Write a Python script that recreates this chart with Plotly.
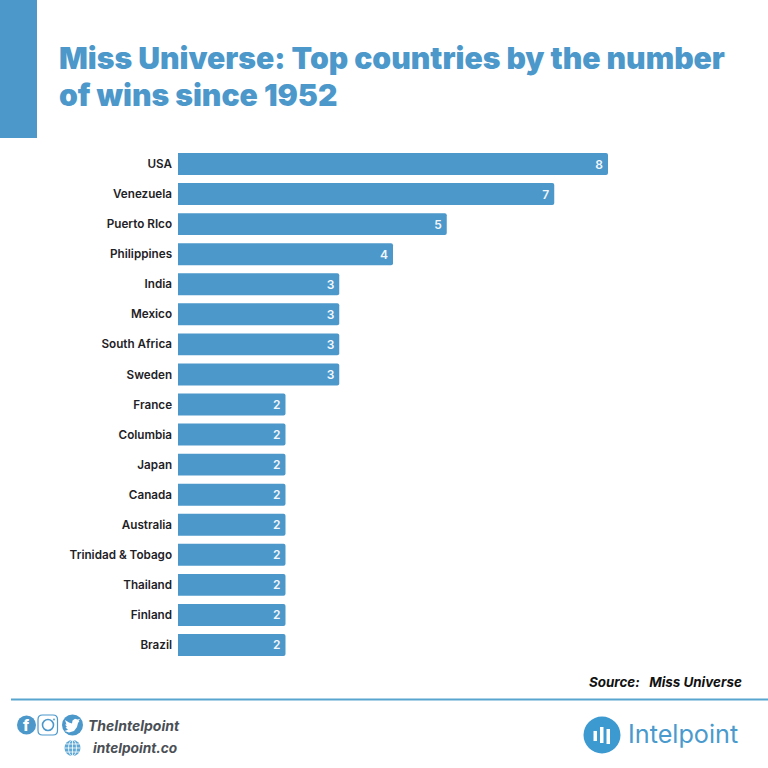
import plotly.graph_objects as go

countries = ["USA", "Venezuela", "Puerto RIco", "Philippines", "India", "Mexico", "South Africa", "Sweden",
             "France", "Columbia", "Japan", "Canada", "Australia", "Trinidad & Tobago", "Thailand", "Finland", "Brazil"]
wins = [8, 7, 5, 4, 3, 3, 3, 3, 2, 2, 2, 2, 2, 2, 2, 2, 2]

BLUE = "#4c98cb"
FONT = "Inter"
L, R, T, B = 178, 608, 149, 660

def px(x):
    return (x - L) / (R - L)

def py(y):
    return (B - y) / (B - T)

fig = go.Figure(go.Bar(
    x=wins, y=countries, orientation="h",
    marker=dict(color=BLUE, line=dict(width=0), cornerradius=2),
    text=[f"{v}\u2009" for v in wins], textposition="inside", insidetextanchor="end", textangle=0,
    textfont=dict(family=FONT, size=12, color="#f2f7fb", weight=600),
    constraintext="none", cliponaxis=False, width=0.73, hoverinfo="skip",
))

shapes = []

def rect(x0, y0, x1, y1, color):
    shapes.append(dict(type="rect", xref="paper", yref="paper", x0=px(x0), x1=px(x1), y0=py(y0), y1=py(y1),
                       fillcolor=color, line=dict(width=0), layer="above"))

def circle(cx, cy, r, fill=BLUE, line=None, width=0):
    shapes.append(dict(type="circle", xref="paper", yref="paper", x0=px(cx - r), x1=px(cx + r),
                       y0=py(cy + r), y1=py(cy - r), fillcolor=fill,
                       line=dict(color=line or fill, width=width), layer="above"))

def path(pts, fill=None, line=None, width=0, close=True):
    d = "M " + " L ".join(f"{px(a):.5f},{py(b):.5f}" for a, b in pts) + (" Z" if close else "")
    shapes.append(dict(type="path", xref="paper", yref="paper", path=d,
                       fillcolor=fill if fill else "rgba(0,0,0,0)",
                       line=dict(color=line or "rgba(0,0,0,0)", width=width), layer="above"))

def rrect(x0, y0, x1, y1, r, line, width):
    p = lambda a, b: f"{px(a):.5f},{py(b):.5f}"
    d = (f"M {p(x0 + r, y0)} L {p(x1 - r, y0)} Q {p(x1, y0)} {p(x1, y0 + r)} L {p(x1, y1 - r)} "
         f"Q {p(x1, y1)} {p(x1 - r, y1)} L {p(x0 + r, y1)} Q {p(x0, y1)} {p(x0, y1 - r)} "
         f"L {p(x0, y0 + r)} Q {p(x0, y0)} {p(x0 + r, y0)} Z")
    shapes.append(dict(type="path", xref="paper", yref="paper", path=d, fillcolor="white",
                       line=dict(color=line, width=width), layer="above"))

def note(x, y, text, size, color, anchor="left", weight=700, italic=False, family=FONT):
    fig.add_annotation(xref="paper", yref="paper", x=px(x), y=py(y), text=text, showarrow=False,
                       xanchor=anchor, yanchor="middle", align="left", borderpad=0, borderwidth=0,
                       font=dict(family=family, size=size, color=color, weight=weight,
                                 style="italic" if italic else "normal"))

# header block and rule
rect(0, 0, 37, 138, BLUE)
shapes.append(dict(type="line", xref="paper", yref="paper", x0=px(11), x1=px(768), y0=py(699.5), y1=py(699.5),
                   line=dict(color="#58a5cf", width=2), layer="above"))

# title
note(59, 58, "Miss Universe: Top countries by the number", 30.15, BLUE, weight=900)
note(59, 95, "of wins since 1952", 30.15, BLUE, weight=900)

# source
note(742, 682, "Source:\u00a0\u00a0 Miss Universe", 13.4, "#111111", anchor="right", italic=True)

# social icons
circle(26.5, 725, 9.5)
note(26.5, 726, "f", 15, "white", anchor="center", weight=800)
rrect(38, 715, 57.5, 735, 4.5, BLUE, 1.2)
circle(48, 725, 5.5, fill="white", line=BLUE, width=1.6)
circle(54, 719.5, 0.9)
circle(72.5, 725, 10.5)
path([(65, 720), (69, 722.5), (72, 723.5), (72.5, 720.5), (75, 718.8), (77.5, 719.5), (80, 719), (78.5, 721),
      (79.5, 721), (78, 723), (77, 727), (74, 731), (69, 732.5), (64.5, 731), (68, 729.8), (65.5, 727.5),
      (67, 727), (65, 724.5), (66.5, 724.5)], fill="white")
note(88, 725, "TheIntelpoint", 14, "#4a4f55", italic=True)

circle(72.5, 748, 8, fill="#5fa8d6")
for pts in ([(64.5, 748), (80.5, 748)], [(65.5, 744), (79.5, 744)], [(65.5, 752), (79.5, 752)], [(72.5, 740), (72.5, 756)]):
    path(pts, line="white", width=0.8, close=False)
shapes.append(dict(type="circle", xref="paper", yref="paper", x0=px(68.5), x1=px(76.5), y0=py(756), y1=py(740),
                   fillcolor="rgba(0,0,0,0)", line=dict(color="white", width=0.8), layer="above"))
note(93, 748, "intelpoint.co", 13.7, "#4a4f55", italic=True)

# logo
circle(602, 735, 18.5, fill="#3d9ad1")
rect(593.5, 731, 597, 741, "white")
rect(600, 727, 603.5, 743, "white")
rect(606.5, 729, 610, 744, "white")
note(628, 734, "Intelpoint", 25.2, "#4a9acd", weight=400)

fig.update_layout(
    width=768, height=768, autosize=False,
    margin=dict(l=L, r=768 - R, t=T, b=768 - B, pad=0),
    paper_bgcolor="white", plot_bgcolor="white", showlegend=False, shapes=shapes,
    xaxis=dict(range=[0, 8], visible=False, fixedrange=True),
    yaxis=dict(autorange="reversed", showline=False, showgrid=False, zeroline=False, ticks="", ticklen=0,
               ticklabelstandoff=2,
               tickfont=dict(family=FONT, size=11.7, color="#1e2226", weight=600), fixedrange=True,
               tickmode="array", tickvals=countries, ticktext=[c + "\u00a0" for c in countries]),
)
fig.write_html("out.html", config={"displayModeBar": False},
               post_script="document.body.style.margin='0';document.documentElement.style.overflow='hidden';")
